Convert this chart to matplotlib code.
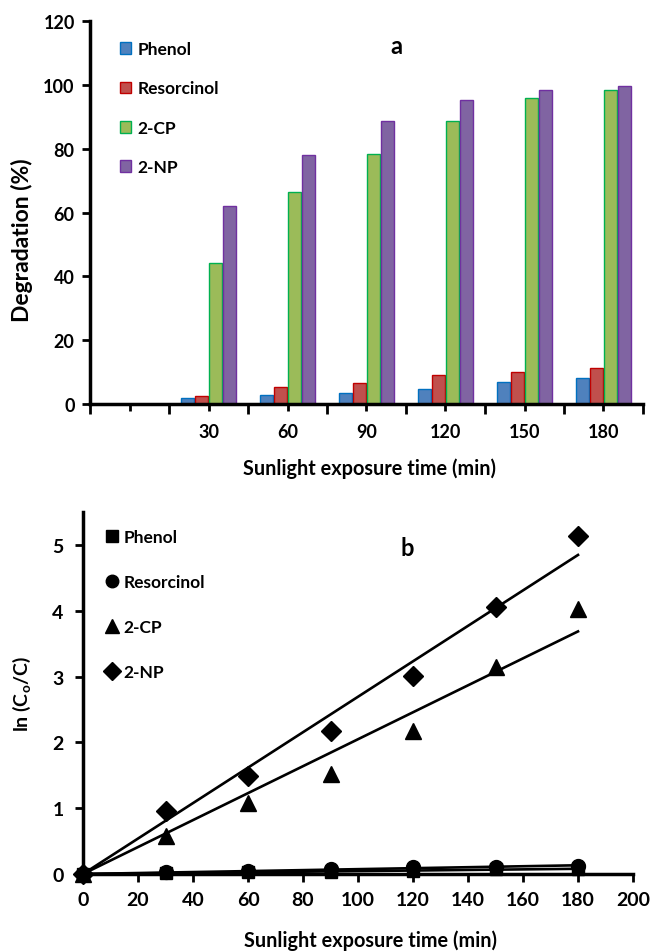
import numpy as np
import matplotlib
matplotlib.use("Agg")
import matplotlib.pyplot as plt

plt.rcParams['font.family'] = ['Lato', 'DejaVu Sans']
plt.rcParams['font.weight'] = 'bold'
plt.rcParams['mathtext.default'] = 'regular'

# exposure times (min)
times = [0, 30, 60, 90, 120, 150, 180]
time_labels = ['', '30', '60', '90', '120', '150', '180']
names = ['Phenol', 'Resorcinol', '2-CP', '2-NP']

# degradation (%)
deg_phenol = [0, 1.8, 2.7, 3.4, 4.8, 6.8, 8.2]
deg_resorcinol = [0, 2.6, 5.2, 6.6, 9.2, 10.1, 11.3]
deg_2cp = [0, 44.1, 66.3, 78.2, 88.8, 95.9, 98.5]
deg_2np = [0, 62.1, 77.9, 88.7, 95.2, 98.5, 99.5]

# ln(Co/C)
ln_phenol = [0, 0.02, 0.03, 0.03, 0.05, 0.07, 0.08]
ln_resorcinol = [0, 0.03, 0.05, 0.07, 0.10, 0.11, 0.12]
ln_2cp = [0, 0.58, 1.08, 1.52, 2.18, 3.14, 4.03]
ln_2np = [0, 0.96, 1.49, 2.17, 3.01, 4.05, 5.13]

fills = ['#4F81BD', '#C0504D', '#9BBB59', '#8064A2']
edges = ['#0070C0', '#C00000', '#00B050', '#7030A0']
markers = ['s', 'o', '^', 'D']
msizes = [9, 10, 11, 10]

W, H = 650, 953
fig = plt.figure(figsize=(W/100, H/100), dpi=100)

# ---- panel a : bar chart ----
ax1 = fig.add_axes([90/W, 1-405/H, 553/W, 383/H])
x = np.arange(len(times))
bw = 0.165
step = 0.177
for i, vals in enumerate([deg_phenol, deg_resorcinol, deg_2cp, deg_2np]):
    ax1.bar(x + (i - 1.5)*step, vals, width=bw, color=fills[i],
            edgecolor=edges[i], linewidth=1.0, label=names[i])
ax1.set_xlim(-0.5, len(times) - 0.5)
ax1.set_ylim(0, 120)
ax1.set_yticks(np.arange(0, 121, 20))
ax1.set_xticks(np.arange(-0.5, len(times), 1.0))
ax1.set_xticklabels([])
ax1.set_xticks(x, minor=True)
ax1.set_xticklabels(time_labels, minor=True)
ax1.tick_params(axis='x', which='major', length=7, width=2, direction='out')
ax1.tick_params(axis='x', which='minor', length=5, width=2, direction='out',
                labelsize=13, pad=9)
ax1.tick_params(axis='y', length=6, width=2, direction='out', labelsize=13, pad=5)
for s in ['top', 'right']:
    ax1.spines[s].set_visible(False)
for s in ['left', 'bottom']:
    ax1.spines[s].set_linewidth(2.5)
ax1.set_ylabel('Degradation (%)', fontsize=16.5, fontweight='bold')
ax1.yaxis.set_label_coords((22-90)/553, 0.43)
ax1.yaxis.label.set_va('center')
ax1.set_xlabel('Sunlight exposure time (min)', fontsize=14.3, fontweight='bold')
ax1.xaxis.set_label_coords((370-90)/553, -(469-405)/383)
ax1.xaxis.label.set_va('center')
fig.text(396/W, 1-46/H, 'a', fontsize=17, fontweight='bold',
         ha='center', va='center')
ax1.legend(loc='upper left', bbox_to_anchor=(120/W, 1-42/H),
           bbox_transform=fig.transFigure, frameon=False,
           fontsize=12.5, handlelength=0.65, handleheight=0.65, handletextpad=0.35,
           labelspacing=1.35, borderaxespad=0, borderpad=0)

# ---- panel b : kinetics ----
ax2 = fig.add_axes([83/W, 1-875/H, 550/W, 362/H])
t = np.array(times, dtype=float)
for i, vals in enumerate([ln_phenol, ln_resorcinol, ln_2cp, ln_2np]):
    v = np.array(vals)
    k = np.sum(t*v) / np.sum(t*t)
    ax2.plot([0, 180], [0, k*180], color='black', lw=1.9, zorder=2)
    ax2.plot(t, v, linestyle='none', marker=markers[i], color='black',
             markersize=msizes[i], label=names[i], zorder=3, clip_on=False)
ax2.set_xlim(0, 200)
ax2.set_ylim(0, 5.5)
ax2.set_xticks(np.arange(0, 201, 20))
ax2.set_yticks(np.arange(0, 6, 1))
ax2.tick_params(axis='x', length=6, width=2, direction='out', labelsize=14, pad=6)
ax2.tick_params(axis='y', length=6, width=2, direction='out', labelsize=14, pad=8)
for s in ['top', 'right']:
    ax2.spines[s].set_visible(False)
for s in ['left', 'bottom']:
    ax2.spines[s].set_linewidth(2.5)
ax2.set_ylabel('ln (C$_{o}$/C)', fontsize=14, fontweight='bold')
ax2.yaxis.set_label_coords((22-83)/550, 0.5)
ax2.yaxis.label.set_va('center')
ax2.set_xlabel('Sunlight exposure time (min)', fontsize=14.3, fontweight='bold')
ax2.xaxis.set_label_coords((371-83)/550, -(941-875)/362)
ax2.xaxis.label.set_va('center')
fig.text(407/W, 1-548/H, 'b', fontsize=17, fontweight='bold',
         ha='center', va='center')
ax2.legend(loc='upper left', bbox_to_anchor=(106/W, 1-530/H),
           bbox_transform=fig.transFigure, frameon=False,
           fontsize=12.5, handlelength=0.7, handletextpad=0.3, markerscale=0.9,
           labelspacing=1.68, borderaxespad=0, borderpad=0)

fig.savefig('out.png', dpi=100)
